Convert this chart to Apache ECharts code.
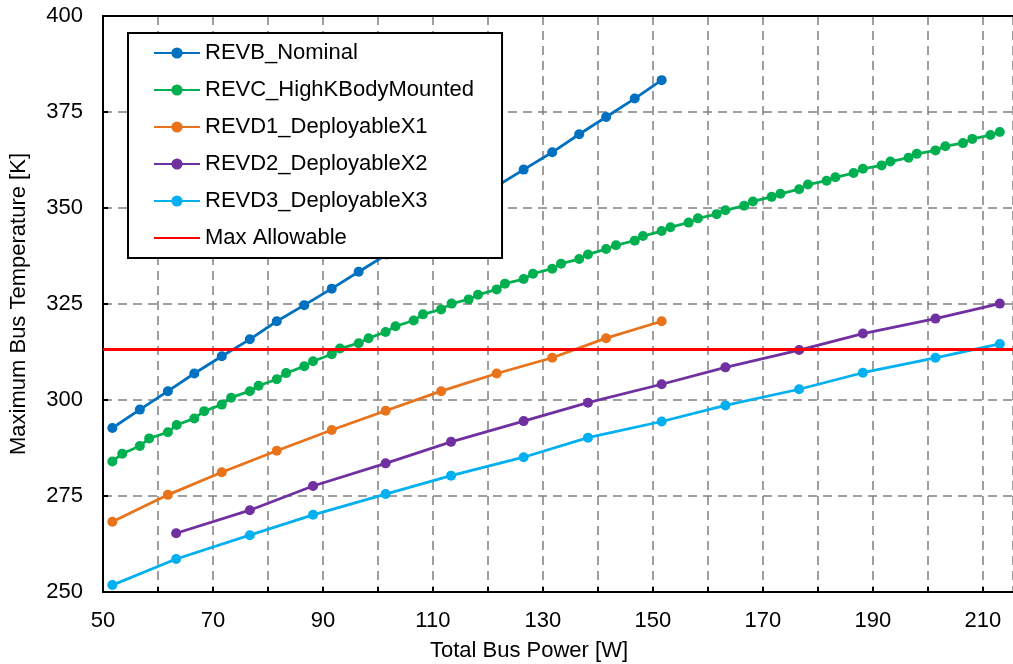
<!DOCTYPE html>
<html>
<head>
<meta charset="utf-8">
<script src="https://cdn.jsdelivr.net/npm/echarts@6/dist/echarts.min.js"></script>
<style>
html,body{margin:0;padding:0;background:#fff;}
#c{width:1013px;height:664px;}
</style>
</head>
<body>
<div id="c"></div>
<script>
var seriesNames = ['REVB_Nominal','REVC_HighKBodyMounted','REVD1_DeployableX1','REVD2_DeployableX2','REVD3_DeployableX3','Max Allowable'];

var revbX = [51.7,56.7,61.8,66.6,71.6,76.7,81.6,86.6,91.6,96.5,101.6,106.5,111.5,116.5,121.5,126.5,131.7,136.6,141.5,146.7,151.6];
var revbY = [292.7,297.5,302.3,306.9,311.4,315.8,320.5,324.7,329.0,333.4,337.9,342.3,346.7,351.2,355.6,360.0,364.5,369.2,373.7,378.5,383.3];

var revcX = [51.7,53.5,56.7,58.4,61.8,63.4,66.6,68.4,71.6,73.3,76.7,78.3,81.6,83.3,86.6,88.2,91.6,93.1,96.5,98.3,
  101.4,103.2,106.5,108.2,111.5,113.4,116.5,118.2,121.6,123.1,126.5,128.2,131.7,133.3,136.6,138.2,141.5,143.3,146.7,148.2,
  151.6,153.2,156.5,158.2,161.6,163.2,166.6,168.2,171.6,173.2,176.6,178.2,181.6,183.2,186.5,188.2,191.6,193.2,196.5,198.0,
  201.4,203.2,206.4,208.1,211.4,213.1];
var revcY = [284.0,286.0,288.0,290.0,291.6,293.5,295.2,297.1,298.8,300.6,302.3,303.7,305.4,307.0,308.8,310.1,311.9,313.4,314.8,316.1,
  317.7,319.2,320.7,322.3,323.6,325.1,326.2,327.4,328.8,330.3,331.5,332.9,334.2,335.5,336.7,337.9,339.3,340.3,341.5,342.7,
  344.0,345.0,346.2,347.3,348.4,349.4,350.6,351.7,352.9,353.7,354.9,356.1,357.1,358.0,359.1,360.2,361.1,362.1,363.1,364.1,
  365.0,366.1,366.9,368.0,369.0,369.8];

var revd1X = [51.7,61.8,71.6,81.6,91.6,101.4,111.5,121.6,131.7,141.5,151.6];
var revd1Y = [268.3,275.3,281.2,286.8,292.2,297.2,302.3,306.9,311.0,316.1,320.5];

var revd2X = [63.3,76.7,88.2,101.4,113.3,126.5,138.2,151.6,163.2,176.6,188.2,201.4,213.1];
var revd2Y = [265.3,271.3,277.6,283.5,289.1,294.5,299.3,304.1,308.5,313.0,317.3,321.2,325.1];

var revd3X = [51.7,63.3,76.7,88.2,101.4,113.3,126.5,138.2,151.6,163.2,176.6,188.2,201.4,213.1];
var revd3Y = [251.8,258.6,264.8,270.1,275.5,280.3,285.1,290.2,294.4,298.6,302.8,307.1,311.0,314.6];

var maxAllowX = [50, 215.5];
var maxAllowY = [313.15, 313.15];

var xTickLabels = [50,70,90,110,130,150,170,190,210];
var yTickLabels = [250,275,300,325,350,375,400];

var colors = ['#0070C0','#00B050','#E8731A','#7030A0','#00B0F0','#FF0000'];

function pairs(xs, ys){ return xs.map(function(x,i){ return [x, ys[i]]; }); }

var FONT = 'Liberation Sans, Arial, sans-serif';
var allX = [revbX, revcX, revd1X, revd2X, revd3X, maxAllowX];
var allY = [revbY, revcY, revd1Y, revd2Y, revd3Y, maxAllowY];

var series = seriesNames.map(function(name, i){
  var isRef = (i === 5);
  return {
    name: name,
    type: 'line',
    xAxisIndex: 0,
    data: pairs(allX[i], allY[i]),
    symbol: isRef ? 'none' : 'circle',
    symbolSize: 10,
    showSymbol: !isRef,
    lineStyle: { color: colors[i], width: 2.8 },
    itemStyle: { color: colors[i] },
    emphasis: { disabled: true },
    animation: false,
    z: isRef ? 3 : 2
  };
});

var legendData = seriesNames.map(function(name, i){
  if (i === 5) return { name: name, itemStyle: { opacity: 0 } };
  return { name: name };
});

var chart = echarts.init(document.getElementById('c'));
chart.setOption({
  backgroundColor: '#fff',
  animation: false,
  grid: { left: 103, right: 0, top: 16, bottom: 72, outerBoundsMode: 'none', containLabel: false },
  legend: {
    data: legendData,
    orient: 'vertical',
    left: 128, top: 33,
    itemWidth: 46, itemHeight: 14, itemGap: 15,
    padding: [9, 28, 9, 25],
    backgroundColor: '#fff',
    borderColor: '#000', borderWidth: 2,
    textStyle: { fontFamily: FONT, fontSize: 22, color: '#000' }
  },
  xAxis: [{
    type: 'value', min: 50, max: 215.5, interval: 10,
    name: 'Total Bus Power [W]', nameLocation: 'middle', nameGap: 48,
    nameTextStyle: { fontFamily: FONT, fontSize: 22, color: '#000', padding: [0, 58, 0, 0] },
    axisLine: { show: true, lineStyle: { color: '#000', width: 2 } },
    axisTick: { show: true, inside: true, length: 5, lineStyle: { color: '#000', width: 2 } },
    axisLabel: {
      fontFamily: FONT, fontSize: 22, color: '#000', margin: 18, showMaxLabel: false,
      formatter: function(v){ return xTickLabels.indexOf(v) >= 0 ? String(v) : ''; }
    },
    splitLine: { show: true, lineStyle: { color: '#808080', width: 1.5, type: [9, 6] } }
  }, {
    type: 'value', position: 'top', min: 50, max: 215.5,
    axisLine: { show: true, onZero: false, lineStyle: { color: '#000', width: 2 } },
    axisTick: { show: false }, axisLabel: { show: false }, splitLine: { show: false }
  }],
  yAxis: {
    type: 'value', min: 250, max: 400, interval: 25,
    name: 'Maximum Bus Temperature [K]', nameLocation: 'middle', nameGap: 73,
    nameTextStyle: { fontFamily: FONT, fontSize: 22, color: '#000' },
    axisLine: { show: true, lineStyle: { color: '#000', width: 2 } },
    axisTick: { show: true, inside: true, length: 5, lineStyle: { color: '#000', width: 2 } },
    axisLabel: {
      fontFamily: FONT, fontSize: 22, color: '#000', margin: 20,
      formatter: function(v){ return yTickLabels.indexOf(v) >= 0 ? String(v) : ''; }
    },
    splitLine: { show: true, lineStyle: { color: '#808080', width: 1.5, type: [9, 6] } }
  },
  series: series
});
</script>
</body>
</html>
